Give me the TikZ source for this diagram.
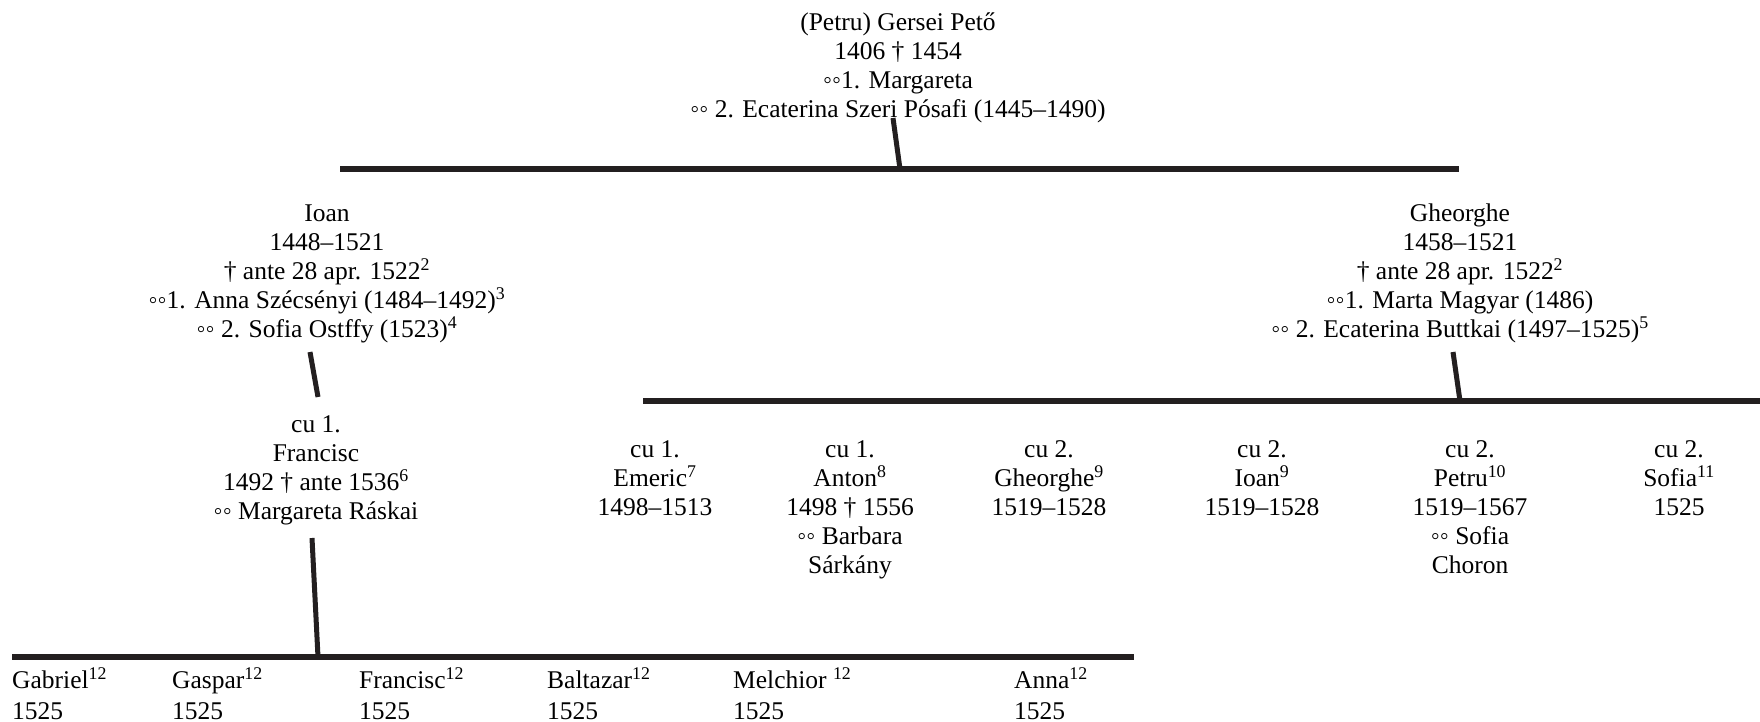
\documentclass[tikz,border=0pt]{standalone}
\usepackage{fontspec}
\setmainfont{Liberation Serif}
\definecolor{ink}{RGB}{35,31,32}
\newcommand\fl{\rule{0pt}{18pt}}
\begin{document}
\begin{tikzpicture}[x=1pt,y=-1pt,
  person/.style={font=\fontsize{25.5}{29}\selectfont, align=center, inner sep=0pt, anchor=north, text=black},
  leaf/.style={font=\fontsize{25.5}{31}\selectfont, align=left, inner sep=0pt, anchor=north west, text=black},
  bar/.style={draw=ink, line width=6pt},
  stub/.style={draw=ink, line width=5pt}]
\useasboundingbox (0,0) rectangle (1760,722);

% generation 1
\node[person] (peto) at (898,12) {\fl(Petru) Gersei Pető\\1406 † 1454\\◦◦1. Margareta\\◦◦ 2. Ecaterina Szeri Pósafi (1445–1490)};

% generation 2
\node[person] (ioan) at (327,203) {\fl Ioan\\1448–1521\\† ante 28 apr. 1522\textsuperscript{2}\\◦◦1. Anna Szécsényi (1484–1492)\textsuperscript{3}\\◦◦ 2. Sofia Ostffy (1523)\textsuperscript{4}};
\node[person] (gheorghe) at (1460,203) {\fl Gheorghe\\1458–1521\\† ante 28 apr. 1522\textsuperscript{2}\\◦◦1. Marta Magyar (1486)\\◦◦ 2. Ecaterina Buttkai (1497–1525)\textsuperscript{5}};

% generation 3
\node[person] (francisc) at (316,414) {\fl cu 1.\\Francisc\\1492 † ante 1536\textsuperscript{6}\\◦◦ Margareta Ráskai};
\node[person] (emeric) at (655,439) {\fl cu 1.\\Emeric\textsuperscript{7}\\1498–1513};
\node[person] (anton) at (850,439) {\fl cu 1.\\Anton\textsuperscript{8}\\1498 † 1556\\◦◦ Barbara\\Sárkány};
\node[person] (gheorghej) at (1049,439) {\fl cu 2.\\Gheorghe\textsuperscript{9}\\1519–1528};
\node[person] (ioanj) at (1262,439) {\fl cu 2.\\Ioan\textsuperscript{9}\\1519–1528};
\node[person] (petru) at (1470,439) {\fl cu 2.\\Petru\textsuperscript{10}\\1519–1567\\◦◦ Sofia\\Choron};
\node[person] (sofia) at (1679,439) {\fl cu 2.\\Sofia\textsuperscript{11}\\1525};

% generation 4
\node[leaf] (gabriel) at (12,667) {\fl Gabriel\textsuperscript{12}\\1525};
\node[leaf] (gaspar) at (172,667) {\fl Gaspar\textsuperscript{12}\\1525};
\node[leaf] (franciscj) at (359,667) {\fl Francisc\textsuperscript{12}\\1525};
\node[leaf] (baltazar) at (547,667) {\fl Baltazar\textsuperscript{12}\\1525};
\node[leaf] (melchior) at (733,667) {\fl Melchior \textsuperscript{12}\\1525};
\node[leaf] (anna) at (1014,667) {\fl Anna\textsuperscript{12}\\1525};

% bars and stubs
\coordinate (topL) at (340,169);
\coordinate (topR) at (1459,169);
\coordinate (topS) at (893,118);
\coordinate (topSB) at (900,169);
\draw[bar] (topL) -- (topR);
\draw[stub] (topS) -- (topSB);

\coordinate (ioanS) at (310,352);
\coordinate (ioanSB) at (318,397);
\draw[stub] (ioanS) -- (ioanSB);

\coordinate (midL) at (643,401);
\coordinate (midR) at (1760,401);
\coordinate (gS) at (1453,352);
\coordinate (gSB) at (1460,401);
\draw[bar] (midL) -- (midR);
\draw[stub] (gS) -- (gSB);

\coordinate (botL) at (12,657);
\coordinate (botR) at (1134,657);
\coordinate (fS) at (312,538);
\coordinate (fSB) at (318,657);
\draw[bar] (botL) -- (botR);
\draw[stub] (fS) -- (fSB);
\end{tikzpicture}
\end{document}
